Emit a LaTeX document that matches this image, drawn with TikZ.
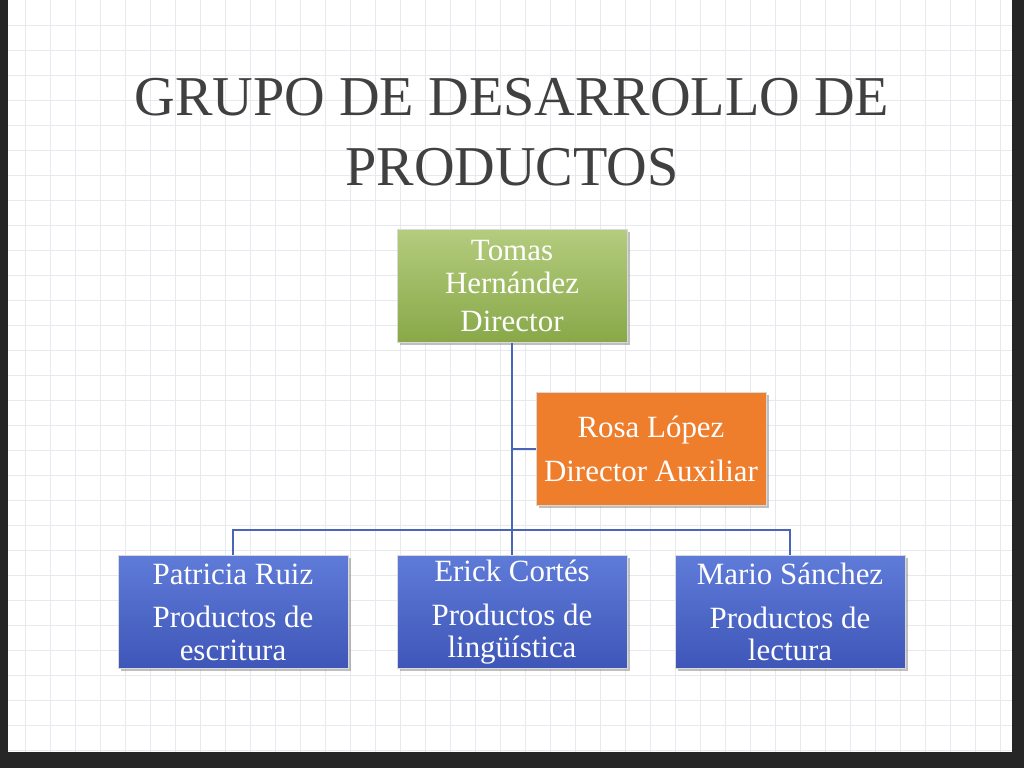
\documentclass[tikz,border=0pt]{standalone}
\usepackage{fontspec}
\setmainfont{Liberation Serif}
\usetikzlibrary{positioning,shadows}
\definecolor{gridc}{HTML}{E6E9EE}
\definecolor{linec}{HTML}{4A64B8}
\definecolor{greentop}{HTML}{B4CC7E}
\definecolor{greenbot}{HTML}{88A848}
\definecolor{orangec}{HTML}{EE7D2C}
\definecolor{bluetop}{HTML}{5F7BD8}
\definecolor{bluebot}{HTML}{3E56B8}
\tikzset{
  box/.style={draw=white!85!black, line width=0.6pt, minimum width=230*0.025cm, minimum height=113*0.025cm,
    inner sep=1pt, align=center, text=white, font=\fontsize{22}{23}\selectfont,
    drop shadow={shadow xshift=2pt, shadow yshift=-2pt, opacity=0.5}},
  boss/.style={box, top color=greentop, bottom color=greenbot},
  aux/.style={box, fill=orangec},
  team/.style={box, top color=bluetop, bottom color=bluebot},
  link/.style={draw=linec, line width=1.2pt}
}
\begin{document}
\begin{tikzpicture}[x=0.025cm,y=-0.025cm]
\useasboundingbox (0,0) rectangle (1024,768);
\fill[black!85] (0,0) rectangle (1024,768);
\fill[white] (8,0) rectangle (1012,752);
\foreach \gx in {25,50,...,1000} \draw[gridc, line width=0.5pt] (\gx,0) -- (\gx,752);
\foreach \gy in {25,50,...,750} \draw[gridc, line width=0.5pt] (8,\gy) -- (1012,\gy);
\node[font=\fontsize{40}{50}\selectfont, text=black!75, align=center] (title) at (512,132) {GRUPO DE DESARROLLO DE\\PRODUCTOS};
\node[boss] (dir) at (512,286) {Tomas\\Hernández\\[4pt]Director};
\node[aux] (aux) at (651,449) {Rosa López\\[8pt]Director Auxiliar};
\node[team] (pat) at (233,612) {Patricia Ruiz\\[8pt]Productos de\\escritura};
\node[team] (eri) at (512,612) {Erick Cortés\\[8pt]Productos de\\lingüística};
\node[team] (mar) at (790,612) {Mario Sánchez\\[8pt]Productos de\\lectura};
\coordinate (hub) at (512,530);
\path[link] (dir.south) -- (hub)
  (dir.south |- aux.west) -- (aux.west)
  (pat.north) -- (pat.north |- hub) -- (mar.north |- hub) -- (mar.north)
  (hub) -- (eri.north);
\end{tikzpicture}
\end{document}
